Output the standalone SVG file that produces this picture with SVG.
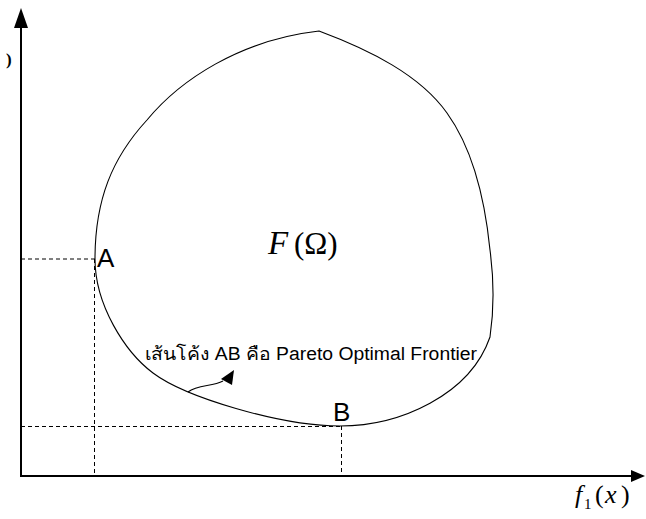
<svg xmlns="http://www.w3.org/2000/svg" width="646" height="519" viewBox="0 0 646 519">
<style>
.axis{stroke:#000;stroke-width:2;fill:none}
.dash{stroke:#000;stroke-width:1;stroke-dasharray:4 3;fill:none}
.curve{stroke:#000;stroke-width:1.1;fill:none}
.math{font-family:"Liberation Serif","Times New Roman",serif;fill:#000}
.lbl{font-family:"Liberation Sans",Arial,sans-serif;fill:#000}
</style>
<rect width="646" height="519" fill="#fff"/>
<g id="axes">
<line class="axis" x1="21" y1="477" x2="21" y2="26"/>
<polygon points="21,8 14,28 28,28" fill="#000"/>
<line class="axis" x1="20" y1="476" x2="632" y2="476"/>
<polygon points="645,476 631,470 631,482" fill="#000"/>
<text class="math" x="6" y="65" font-size="17" font-weight="bold">)</text>
<text class="math" y="503"><tspan x="575" font-size="26" font-style="italic">f</tspan><tspan x="584" y="509" font-size="15">1</tspan><tspan x="595" y="503" font-size="26">(</tspan><tspan x="605" font-size="26" font-style="italic">x</tspan><tspan x="621" font-size="26">)</tspan></text>
</g>
<g id="guides">
<polyline class="dash" points="21,259 95,259"/>
<polyline class="dash" points="94.5,259 94.5,476"/>
<polyline class="dash" points="21,426.5 341,426.5"/>
<polyline class="dash" points="341.5,426 341.5,476"/>
</g>
<g id="region">
<path class="curve" d="M319,31 C240,40 180,80 147,120 C112,158 95,200 95,259 C95,305 125,352 153,373 C185,397 280,426 340,426 C400,426 470,395 490,337 C494,310 494,280 490,250 C484,190 470,145 447,113 C420,75 370,50 319,31 Z"/>
<text class="math" y="254" font-size="31"><tspan x="268" font-size="33" font-style="italic">F</tspan><tspan x="294">(Ω)</tspan></text>
</g>
<g id="pointA"><text class="lbl" x="97" y="267" font-size="26">A</text></g>
<g id="pointB"><text class="lbl" x="333" y="421" font-size="26">B</text></g>
<g id="connectors">
<path class="curve" d="M188,392 C198,384 212,387 223,381"/>
<polygon points="234,370 221,379 232,385" fill="#000"/>
</g>
<g id="note">
<text class="lbl" x="145" y="360" font-size="18" fill="#111" textLength="332" lengthAdjust="spacingAndGlyphs">เส้นโค้ง AB คือ Pareto Optimal Frontier</text>
</g>
</svg>
